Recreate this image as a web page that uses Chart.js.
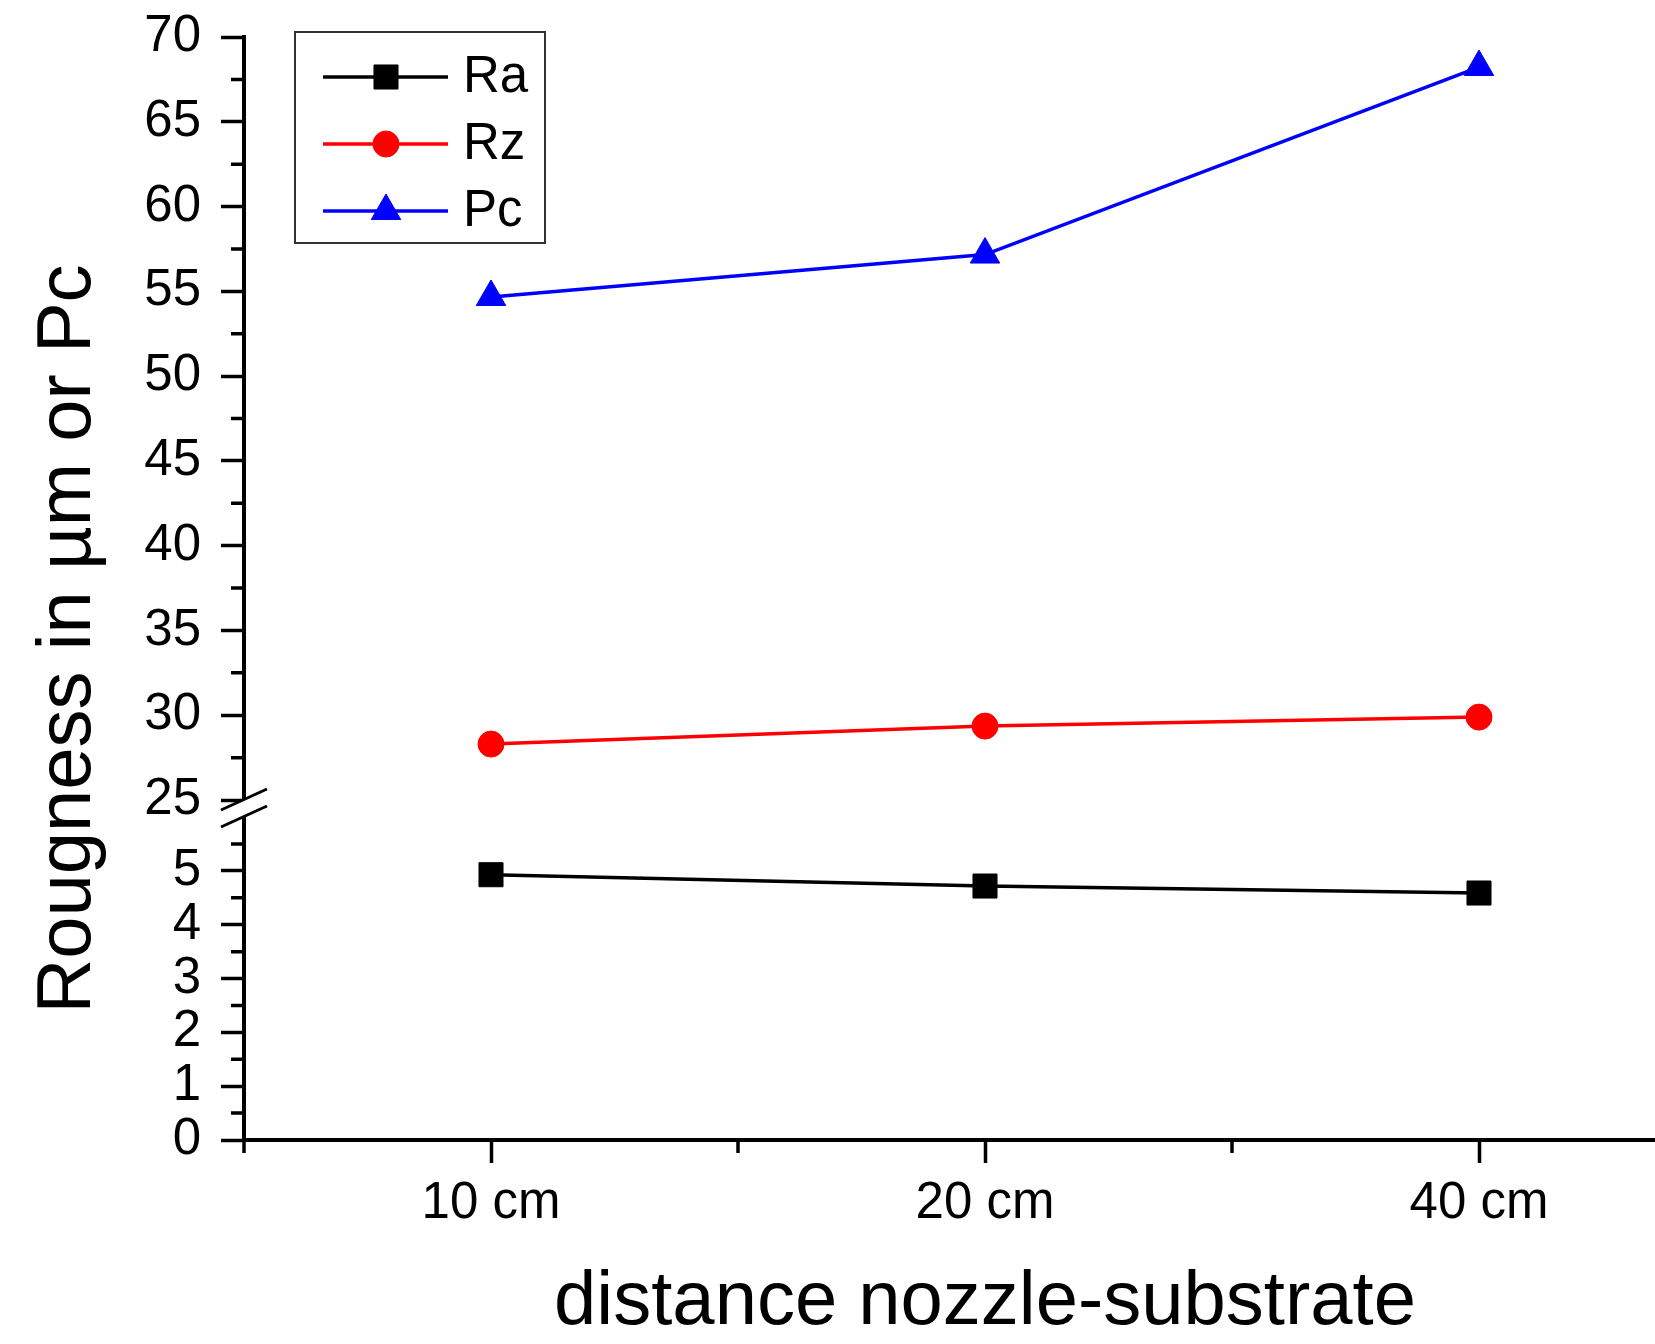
<!DOCTYPE html>
<html>
<head>
<meta charset="utf-8">
<title>Rougness vs distance nozzle-substrate</title>
<script src="https://cdn.jsdelivr.net/npm/chart.js@4.4.1/dist/chart.umd.min.js"></script>
<style>
    html, body { margin: 0; padding: 0; background: #fff; overflow: hidden; }
    #wrap { width: 1655px; height: 1344px; overflow: hidden; }
    canvas { display: block; }
</style>
</head>
<body>
<div id="wrap"><canvas id="chart" width="1744" height="1344"></canvas></div>
<script>
// ----- data -----
const categories = ['10 cm', '20 cm', '40 cm'];
const raValues = [4.93, 4.72, 4.59];
const rzValues = [28.30, 29.36, 29.89];
const pcValues = [54.67, 57.17, 68.23];

// ----- tick labels -----
const upperTicks = [25, 30, 35, 40, 45, 50, 55, 60, 65, 70];
const upperMinor = [27.5, 32.5, 37.5, 42.5, 47.5, 52.5, 57.5, 62.5, 67.5];
const lowerTicks = [0, 1, 2, 3, 4, 5];
const lowerMinor = [0.5, 1.5, 2.5, 3.5, 4.5, 5.5];
const xTicks = [0, 1, 2];
const xMinor = [-0.5, 0.5, 1.5, 2.5];

const FONT = "'Liberation Sans', Arial, Helvetica, sans-serif";
Chart.defaults.font.family = FONT;
Chart.defaults.color = '#000';

const toPoints = values => values.map((v, i) => ({ x: i, y: v }));

// minor ticks, axis break, y title and boxed legend
const extrasPlugin = {
    id: 'extras',
    afterDraw(chart) {
        const ctx = chart.ctx;
        const area = chart.chartArea;
        const { x, yTop, yBot } = chart.scales;

        ctx.save();
        ctx.strokeStyle = '#000';
        ctx.lineWidth = 3.5;

        // minor ticks
        ctx.beginPath();
        xMinor.forEach(v => {
            const px = x.getPixelForValue(v);
            ctx.moveTo(px, area.bottom);
            ctx.lineTo(px, area.bottom + 13);
        });
        upperMinor.forEach(v => {
            const py = yTop.getPixelForValue(v);
            ctx.moveTo(area.left, py);
            ctx.lineTo(area.left - 13, py);
        });
        lowerMinor.forEach(v => {
            const py = yBot.getPixelForValue(v);
            ctx.moveTo(area.left, py);
            ctx.lineTo(area.left - 13, py);
        });
        ctx.stroke();

        // axis break
        const bx = area.left;
        const by = yTop.bottom;
        ctx.fillStyle = '#fff';
        ctx.beginPath();
        ctx.moveTo(bx - 23, by + 2);
        ctx.lineTo(bx + 23, by - 19);
        ctx.lineTo(bx + 23, by - 2);
        ctx.lineTo(bx - 23, by + 19);
        ctx.closePath();
        ctx.fill();
        ctx.lineWidth = 3;
        ctx.beginPath();
        ctx.moveTo(bx - 23, by + 2);
        ctx.lineTo(bx + 23, by - 19);
        ctx.moveTo(bx - 23, by + 19);
        ctx.lineTo(bx + 23, by - 2);
        ctx.stroke();

        // y axis title
        ctx.fillStyle = '#000';
        ctx.font = '76px ' + FONT;
        ctx.textAlign = 'center';
        ctx.textBaseline = 'middle';
        ctx.translate(69, 639);
        ctx.rotate(-Math.PI / 2);
        ctx.fillText('Rougness in µm or Pc', 0, 0);
        ctx.setTransform(1, 0, 0, 1, 0, 0);

        // legend box
        ctx.strokeStyle = '#333';
        ctx.lineWidth = 2;
        ctx.strokeRect(295, 32, 250, 211);

        chart.data.datasets.forEach((ds, i) => {
            const ly = 77 + i * 67;
            ctx.strokeStyle = ds.borderColor;
            ctx.lineWidth = 3.5;
            ctx.beginPath();
            ctx.moveTo(323, ly);
            ctx.lineTo(448, ly);
            ctx.stroke();

            ctx.fillStyle = ds.pointBackgroundColor;
            ctx.strokeStyle = ds.pointBorderColor;
            ctx.lineWidth = 1;
            Chart.helpers.drawPoint(ctx, {
                pointStyle: ds.pointStyle,
                radius: ds.pointRadius,
                rotation: 0,
                borderWidth: 1
            }, 386, ly);

            ctx.fillStyle = '#000';
            ctx.font = '51px ' + FONT;
            ctx.textAlign = 'left';
            ctx.textBaseline = 'middle';
            ctx.fillText(ds.label, 463, ly + 1);
        });

        ctx.restore();
    }
};

function makeDataset(label, values, color, style, radius, axis) {
    return {
        label: label,
        data: toPoints(values),
        yAxisID: axis,
        borderColor: color,
        backgroundColor: color,
        borderWidth: 3.5,
        tension: 0,
        pointStyle: style,
        pointRadius: radius,
        pointHoverRadius: radius,
        pointBackgroundColor: color,
        pointBorderColor: color,
        pointBorderWidth: 1
    };
}

const yAxisBase = {
    type: 'linear',
    position: 'left',
    stack: 'rough',
    grid: {
        drawOnChartArea: false,
        drawTicks: true,
        tickLength: 23,
        tickWidth: 3.5,
        tickColor: '#000'
    },
    border: { display: true, color: '#000', width: 4 },
    ticks: { font: { size: 51 }, color: '#000', padding: 20, autoSkip: false },
    afterFit(scale) {
        scale.width = 244;
        scale.paddingTop = 0;
        scale.paddingBottom = 0;
    }
};

new Chart(document.getElementById('chart'), {
    type: 'line',
    data: {
        datasets: [
            makeDataset('Ra', raValues, '#000000', 'rect', 17, 'yBot'),
            makeDataset('Rz', rzValues, '#ff0000', 'circle', 13, 'yTop'),
            makeDataset('Pc', pcValues, '#0000ff', 'triangle', 17, 'yTop')
        ]
    },
    options: {
        responsive: false,
        animation: false,
        devicePixelRatio: 1,
        layout: { padding: { top: 37, right: 0, bottom: 0, left: 0 } },
        plugins: {
            legend: { display: false },
            tooltip: { enabled: false }
        },
        scales: {
            x: {
                type: 'linear',
                min: -0.5,
                max: 2.5,
                grid: {
                    drawOnChartArea: false,
                    drawTicks: true,
                    tickLength: 23,
                    tickWidth: 3.5,
                    tickColor: '#000'
                },
                border: { display: true, color: '#000', width: 4 },
                ticks: {
                    font: { size: 51 },
                    color: '#000',
                    padding: 10,
                    maxRotation: 0,
                    autoSkip: false,
                    callback: value => categories[value] ?? ''
                },
                afterBuildTicks(scale) {
                    scale.ticks = xTicks.map(v => ({ value: v }));
                },
                title: {
                    display: true,
                    text: 'distance nozzle-substrate',
                    color: '#000',
                    font: { size: 76, lineHeight: 1 },
                    padding: { top: 0, bottom: 3 }
                },
                afterFit(scale) {
                    scale.height = 204;
                    scale.paddingLeft = 0;
                    scale.paddingRight = 0;
                }
            },
            yBot: Object.assign({}, yAxisBase, {
                min: 0,
                max: 6.17,
                stackWeight: 332,
                afterBuildTicks(scale) {
                    scale.ticks = lowerTicks.map(v => ({ value: v }));
                }
            }),
            yTop: Object.assign({}, yAxisBase, {
                min: 24.53,
                max: 70,
                stackWeight: 771,
                afterBuildTicks(scale) {
                    scale.ticks = upperTicks.map(v => ({ value: v }));
                }
            })
        }
    },
    plugins: [extrasPlugin]
});
</script>
</body>
</html>
